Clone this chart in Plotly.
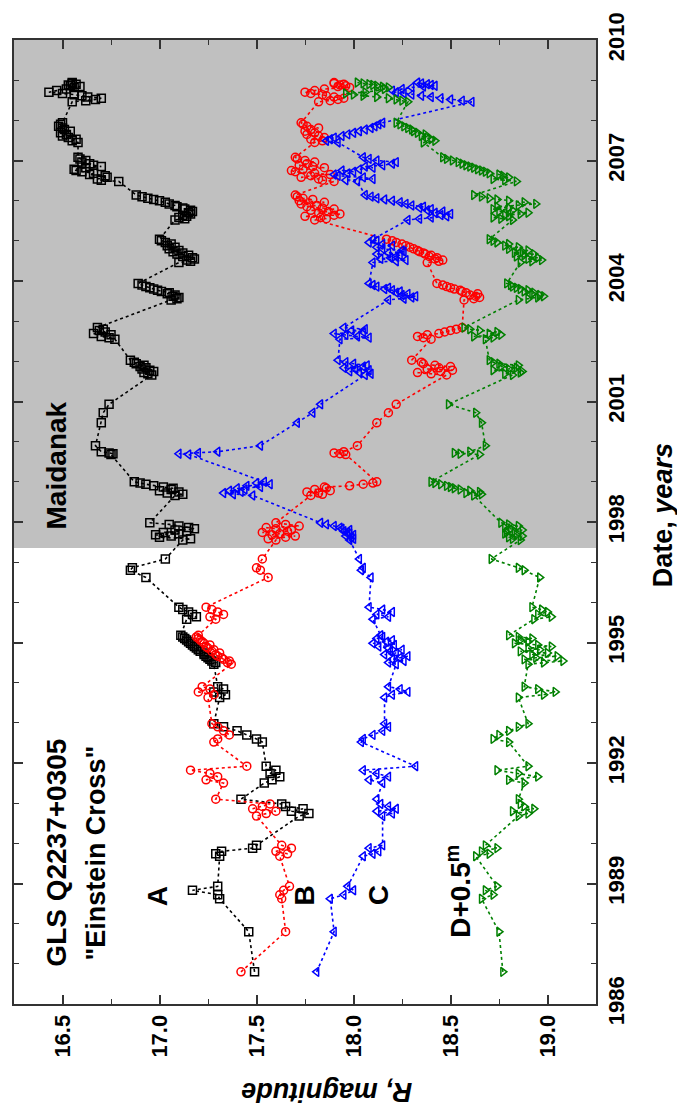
import plotly.graph_objects as go

# Observation epochs (decimal years), one row per observing season
dates = [
    1986.80,
    1987.80,
    1988.62, 1988.72, 1988.83, 1988.93,
    1989.68, 1989.74, 1989.80, 1989.88, 1989.95,
    1990.68, 1990.74, 1990.80, 1990.86, 1990.92, 1990.98,
    1991.10,
    1991.50, 1991.58, 1991.66, 1991.74, 1991.82, 1991.92,
    1992.52, 1992.60, 1992.70, 1992.80, 1992.90, 1992.98,
    1993.63, 1993.70, 1993.77, 1993.84, 1993.90,
    1994.46, 1994.50, 1994.54, 1994.58, 1994.62, 1994.66, 1994.70, 1994.74, 1994.78, 1994.82,
    1994.86, 1994.90, 1994.94, 1994.98, 1995.02, 1995.06, 1995.10, 1995.14, 1995.18,
    1995.58, 1995.64, 1995.70, 1995.76, 1995.82, 1995.88,
    1996.62, 1996.80, 1996.86, 1997.08,
    1997.55, 1997.58, 1997.62, 1997.65, 1997.68, 1997.71, 1997.74, 1997.77, 1997.80, 1997.83,
    1997.86, 1997.90, 1997.94, 1997.98,
    1998.66, 1998.69, 1998.72, 1998.75, 1998.78, 1998.81, 1998.84, 1998.87, 1998.90, 1998.94,
    1998.97, 1999.00,
    1999.68, 1999.70, 1999.72, 1999.75, 1999.90,
    2000.47, 2000.72, 2000.93,
    2001.66, 2001.69, 2001.72, 2001.75, 2001.78, 2001.81, 2001.84, 2001.87, 2001.90, 2001.94,
    2001.98, 2002.03,
    2002.55, 2002.59, 2002.62, 2002.66, 2002.69, 2002.73, 2002.77, 2002.80, 2002.84,
    2003.53, 2003.56, 2003.59, 2003.62, 2003.65, 2003.68, 2003.71, 2003.74, 2003.77, 2003.80,
    2003.83, 2003.86, 2003.90, 2003.94,
    2004.46, 2004.49, 2004.52, 2004.55, 2004.58, 2004.61, 2004.64, 2004.67, 2004.70, 2004.73,
    2004.76, 2004.80, 2004.84, 2004.88, 2004.92, 2004.96, 2005.00, 2005.04,
    2005.52, 2005.55, 2005.58, 2005.61, 2005.64, 2005.67, 2005.70, 2005.73, 2005.76, 2005.79,
    2005.82, 2005.85, 2005.88, 2005.92, 2005.96, 2006.00, 2006.03, 2006.06, 2006.10, 2006.14,
    2006.48, 2006.51, 2006.54, 2006.58, 2006.62, 2006.65, 2006.68, 2006.72, 2006.75, 2006.78,
    2006.82, 2006.85, 2006.88, 2006.92, 2006.96, 2007.00, 2007.04, 2007.08,
    2007.45, 2007.49, 2007.53, 2007.57, 2007.61, 2007.65, 2007.69, 2007.73, 2007.77, 2007.81,
    2007.85, 2007.90, 2007.94,
    2008.46, 2008.49, 2008.52, 2008.55, 2008.58, 2008.61, 2008.64, 2008.67, 2008.70, 2008.74,
    2008.78, 2008.82, 2008.84, 2008.86, 2008.88, 2008.90, 2008.92, 2008.94,
]

# R magnitudes of the four images
mag_a = [
    17.49,
    17.46,
    17.31, 17.30, 17.17, 17.30,
    17.31, 17.29, 17.32, 17.48, 17.50,
    17.72, 17.77, 17.68, 17.74, 17.65, 17.63,
    17.42,
    17.54, 17.58, 17.62, 17.57, 17.60, 17.55,
    17.53, 17.50, 17.45, 17.40, 17.33, 17.28,
    17.31, 17.34, 17.28, 17.33, 17.30,
    17.28, 17.29, 17.27, 17.26, 17.25, 17.24, 17.23, 17.23, 17.21, 17.20,
    17.19, 17.18, 17.17, 17.16, 17.15, 17.14, 17.13, 17.12, 17.11,
    17.14, 17.19, 17.17, 17.15, 17.12, 17.10,
    16.93, 16.85, 16.86, 17.03,
    17.12, 17.16, 17.00, 17.06, 16.98, 17.10, 17.02, 17.14, 17.08, 17.18,
    17.15, 17.10, 17.05, 16.95,
    17.08, 17.12, 17.04, 17.10, 17.00, 17.06, 17.07, 17.02, 16.97, 16.93,
    16.90, 16.87,
    16.75, 16.76, 16.74, 16.70, 16.67,
    16.70, 16.71, 16.74,
    16.96, 16.94, 16.92, 16.97, 16.95, 16.91, 16.93, 16.90, 16.92, 16.88,
    16.87, 16.85,
    16.77, 16.74, 16.70, 16.75, 16.66, 16.72, 16.69, 16.71, 16.68,
    17.06, 17.09, 17.10, 17.07, 17.08, 17.04, 17.05, 17.01, 16.99, 16.97,
    16.95, 16.93, 16.91, 16.89,
    17.10, 17.16, 17.14, 17.18, 17.17, 17.12, 17.15, 17.09, 17.12, 17.07,
    17.10, 17.05, 17.08, 17.04, 17.06, 17.03, 17.01, 17.00,
    17.08, 17.13, 17.10, 17.14, 17.12, 17.16, 17.15, 17.17, 17.16, 17.13,
    17.12, 17.09, 17.08, 17.05, 17.03, 17.00, 16.97, 16.94, 16.91, 16.88,
    16.79, 16.70, 16.68, 16.73, 16.72, 16.64, 16.66, 16.60, 16.57, 16.56,
    16.62, 16.70, 16.66, 16.64, 16.60, 16.62, 16.59, 16.58,
    16.58, 16.55, 16.57, 16.53, 16.50, 16.52, 16.49, 16.54, 16.51, 16.50,
    16.48, 16.49, 16.50,
    16.55, 16.62, 16.67, 16.70, 16.63, 16.60, 16.56, 16.50, 16.43, 16.47,
    16.52, 16.56, 16.59, 16.54, 16.53, 16.57, 16.55, 16.55,
]

mag_b = [
    17.42,
    17.65,
    17.63, 17.62, 17.64, 17.67,
    17.62, 17.66, 17.60, 17.68, 17.63,
    17.50, 17.55, 17.60, 17.48, 17.53, 17.57,
    17.29,
    17.33, 17.24, 17.30, 17.26, 17.16, 17.45,
    17.28, 17.30, 17.36, 17.33, 17.30, 17.27,
    17.25, 17.28, 17.20, 17.26, 17.22,
    17.37, 17.35, 17.36, 17.33, 17.32, 17.30, 17.29, 17.31, 17.27, 17.28,
    17.25, 17.24, 17.26, 17.23, 17.22, 17.21, 17.20, 17.19, 17.20,
    17.29, 17.26, 17.33, 17.30, 17.27, 17.24,
    17.56, 17.52, 17.50, 17.53,
    17.60, 17.56, 17.65, 17.70, 17.58, 17.62, 17.53, 17.66, 17.68, 17.60,
    17.55, 17.72, 17.65, 17.60,
    17.78, 17.84, 17.82, 17.76, 17.88, 17.80, 17.86, 17.85, 17.98, 18.05,
    18.10, 18.12,
    17.96, 17.93, 17.90, 17.95, 18.02,
    18.12, 18.18, 18.22,
    18.48, 18.40, 18.33, 18.45, 18.51, 18.38, 18.44, 18.50, 18.42, 18.36,
    18.35, 18.30,
    18.40, 18.36, 18.33, 18.38, 18.44, 18.47, 18.50, 18.53, 18.56,
    18.57, 18.62, 18.65, 18.63, 18.60, 18.64, 18.58, 18.56, 18.55, 18.52,
    18.50, 18.48, 18.46, 18.43,
    18.38, 18.44, 18.46, 18.42, 18.43, 18.39, 18.40, 18.37, 18.36, 18.34,
    18.33, 18.31, 18.29, 18.27, 18.25, 18.22, 18.20, 18.17,
    17.80, 17.86, 17.83, 17.75, 17.90, 17.93, 17.82, 17.87, 17.78, 17.90,
    17.84, 17.76, 17.81, 17.73, 17.85, 17.72, 17.79, 17.74, 17.71, 17.70,
    17.90, 17.84, 17.82, 17.73, 17.78, 17.88, 17.80, 17.70, 17.68, 17.74,
    17.85, 17.79, 17.72, 17.76, 17.80, 17.75, 17.71, 17.70,
    17.80, 17.84, 17.78, 17.85, 17.82, 17.76, 17.80, 17.75, 17.78, 17.82,
    17.76, 17.74, 17.73,
    17.82, 17.88, 17.92, 17.95, 17.90, 17.86, 17.84, 17.78, 17.75, 17.80,
    17.85, 17.98, 17.92, 17.96, 17.93, 17.95, 17.90, 17.90,
]

mag_c = [
    17.81,
    17.90,
    17.88, 17.95, 18.00, 17.97,
    18.05, 18.10, 18.13, 18.08, 18.15,
    18.15, 18.20, 18.12, 18.22, 18.18, 18.14,
    18.12,
    18.15, 18.08, 18.18, 18.12, 18.05, 18.32,
    18.04, 18.05, 18.10, 18.15, 18.18, 18.16,
    18.16, 18.20, 18.28, 18.24, 18.18,
    18.22, 18.18, 18.26, 18.20, 18.24, 18.28, 18.16, 18.22, 18.19, 18.25,
    18.18, 18.13, 18.21, 18.10, 18.17, 18.20, 18.12, 18.15, 18.14,
    18.10, 18.18, 18.12, 18.20, 18.15, 18.08,
    18.09, 18.04, 18.05, 18.03,
    17.98, 18.00, 17.99, 17.96, 18.00, 17.98, 17.97, 17.95, 17.98, 17.94,
    17.93, 17.90, 17.86, 17.83,
    17.48, 17.38, 17.33, 17.42, 17.36, 17.44, 17.40, 17.52, 17.45, 17.57,
    17.50, 17.54,
    17.15, 17.10, 17.20, 17.30, 17.52,
    17.71, 17.79, 17.83,
    18.06, 18.09, 18.03, 17.98, 18.08, 18.01, 17.95, 18.05, 18.07, 18.00,
    17.96, 17.92,
    17.93, 18.08, 18.02, 17.96, 17.90, 18.05, 17.99, 18.06, 17.95,
    18.18, 18.26, 18.30, 18.32, 18.25, 18.28, 18.22, 18.24, 18.20, 18.16,
    18.18, 18.12, 18.10, 18.08,
    18.10, 18.22, 18.27, 18.14, 18.19, 18.22, 18.24, 18.12, 18.18, 18.26,
    18.25, 18.15, 18.12, 18.20, 18.15, 18.08, 18.12, 18.10,
    18.28, 18.34, 18.40, 18.48, 18.45, 18.50, 18.42, 18.46, 18.38, 18.40,
    18.34, 18.36, 18.30, 18.27, 18.24, 18.20, 18.16, 18.12, 18.09, 18.06,
    18.02, 17.96, 18.10, 18.05, 17.92, 17.90, 17.97, 18.00, 17.94, 18.03,
    18.10, 18.06, 18.15, 18.20, 18.22, 18.12, 18.08, 18.05,
    17.92, 17.86, 17.88, 17.90, 17.94, 17.97, 18.00, 18.03, 18.06, 18.09,
    18.11, 18.13, 18.15,
    18.61, 18.56, 18.50, 18.45, 18.40, 18.35, 18.30, 18.26, 18.22, 18.20,
    18.25, 18.30, 18.36, 18.42, 18.40, 18.38, 18.35, 18.33,
]

# image D, shifted by +0.5 mag
mag_d = [
    18.77,
    18.75,
    18.66, 18.72, 18.68, 18.74,
    18.63, 18.70, 18.66, 18.74, 18.68,
    18.85, 18.90, 18.82, 18.93, 18.88, 18.86,
    18.85,
    18.88, 18.80, 18.95, 18.85, 18.74, 18.90,
    18.80, 18.72, 18.75, 18.80, 18.85, 18.90,
    18.85, 18.98, 19.04, 18.95, 18.88,
    18.90, 18.98, 19.08, 18.88, 18.94, 19.05, 18.92, 19.00, 18.86, 18.96,
    18.90, 19.02, 18.95, 18.83, 18.90, 18.86, 18.92, 18.85, 18.80,
    18.93, 19.02, 18.95, 19.00, 18.97, 18.92,
    18.96, 18.88, 18.85, 18.71,
    18.86, 18.82, 18.80, 18.87, 18.84, 18.78, 18.79, 18.83, 18.87, 18.81,
    18.78, 18.85, 18.80, 18.76,
    18.62, 18.66, 18.58, 18.65, 18.60, 18.55, 18.52, 18.50, 18.48, 18.45,
    18.42, 18.40,
    18.65, 18.55, 18.52, 18.60, 18.68,
    18.66, 18.63, 18.49,
    18.82, 18.78, 18.86, 18.87, 18.72, 18.80, 18.84, 18.76, 18.85, 18.75,
    18.72, 18.70,
    18.68, 18.72, 18.62, 18.76, 18.70, 18.74, 18.65, 18.60, 18.57,
    18.85, 18.90, 18.95, 18.98, 18.96, 18.92, 18.93, 18.88, 18.90, 18.86,
    18.84, 18.82, 18.81, 18.79,
    18.86, 18.92, 18.97, 18.90, 18.95, 18.84, 18.88, 18.93, 18.83, 18.87,
    18.90, 18.80, 18.85, 18.78, 18.80, 18.74, 18.72, 18.70,
    18.82, 18.76, 18.72, 18.80, 18.78, 18.86, 18.90, 18.75, 18.82, 18.72,
    18.80, 18.74, 18.85, 18.94, 18.88, 18.80, 18.74, 18.70, 18.66, 18.62,
    18.84, 18.78, 18.72, 18.80, 18.77, 18.75, 18.70, 18.68, 18.66, 18.64,
    18.62, 18.60, 18.58, 18.56, 18.54, 18.51, 18.48, 18.46,
    18.36, 18.42, 18.40, 18.38, 18.35, 18.37, 18.33, 18.31, 18.30, 18.28,
    18.26, 18.24, 18.22,
    18.28, 18.25, 18.22, 18.18, 18.12, 18.05, 18.00, 17.96, 18.06, 18.12,
    18.16, 18.18, 18.15, 18.12, 18.10, 18.08, 18.05, 18.02,
]

for series in (mag_a, mag_b, mag_c, mag_d):
    assert len(series) == len(dates)

mag_ticks = [16.5, 17.0, 17.5, 18.0, 18.5, 19.0]
mag_labels = ["16.5", "17.0", "17.5", "18.0", "18.5", "19.0"]
year_ticks = [1986, 1989, 1992, 1995, 1998, 2001, 2004, 2007, 2010]
year_labels = [str(y) for y in year_ticks]

maidanak_start = 1997.35

FONT = "Liberation Sans, Arial, sans-serif"

series_style = [
    (mag_a, "A", "black", "square-open"),
    (mag_b, "B", "red", "circle-open"),
    (mag_c, "C", "blue", "triangle-left-open"),
    (mag_d, "D", "green", "triangle-right-open"),
]

fig = go.Figure()
for mags, name, color, symbol in series_style:
    fig.add_trace(go.Scatter(
        x=mags, y=dates, name=name, mode="lines+markers",
        line=dict(color=color, width=1.6, dash="dot"),
        marker=dict(symbol=symbol, size=8, color=color,
                    line=dict(color=color, width=1.5)),
        showlegend=False,
    ))

# Maidanak monitoring period
fig.add_shape(type="rect", xref="paper", x0=0, x1=1, yref="y",
              y0=maidanak_start, y1=2010, fillcolor="#c0c0c0",
              line=dict(width=0), layer="below")

axis_common = dict(
    showline=True, linecolor="#333333", linewidth=2, mirror="ticks",
    ticks="inside", ticklen=9, tickwidth=1.6, tickcolor="#333333",
    showgrid=False, zeroline=False,
    tickfont=dict(family=FONT, size=22, color="black", weight="bold"),
    tickangle=-90,
)

fig.update_xaxes(range=[16.25, 19.25], tickvals=mag_ticks, ticktext=mag_labels,
                 minor=dict(dtick=0.25, tick0=16.5, ticks="inside", ticklen=5,
                            tickwidth=1.4, tickcolor="#333333"),
                 **axis_common)
fig.update_yaxes(range=[1986, 2010], tickvals=year_ticks, ticktext=year_labels,
                 side="right",
                 minor=dict(dtick=1, tick0=1986, ticks="inside", ticklen=5,
                            tickwidth=1.4, tickcolor="#333333"),
                 **axis_common)

def label(text, x, y, size=28, angle=-90, xref="x", yref="y"):
    fig.add_annotation(text=text, x=x, y=y, xref=xref, yref=yref,
                       showarrow=False, textangle=angle,
                       xanchor="center", yanchor="middle",
                       font=dict(family=FONT, size=size, color="black",
                                 weight="bold"))

label("GLS Q2237+0305", 16.47, 1989.76)
label("\"Einstein Cross\"", 16.67, 1989.76, size=27)
label("A", 16.99, 1988.67)
label("B", 17.75, 1988.70)
label("C", 18.13, 1988.70)
label("D+0.5<sup>m</sup>", 18.54, 1988.80)
label("Maidanak", 16.47, 1999.40)

label("<i>R, magnitude</i>", 0.538, -0.092, size=27, angle=180,
      xref="paper", yref="paper")
label("Date, <i>years</i>", 1.115, 0.507, size=27, angle=-90,
      xref="paper", yref="paper")

fig.update_layout(
    width=677, height=1115,
    margin=dict(l=14, r=81, t=33, b=111),
    paper_bgcolor="white", plot_bgcolor="white",
)

fig.write_html("out.html")
